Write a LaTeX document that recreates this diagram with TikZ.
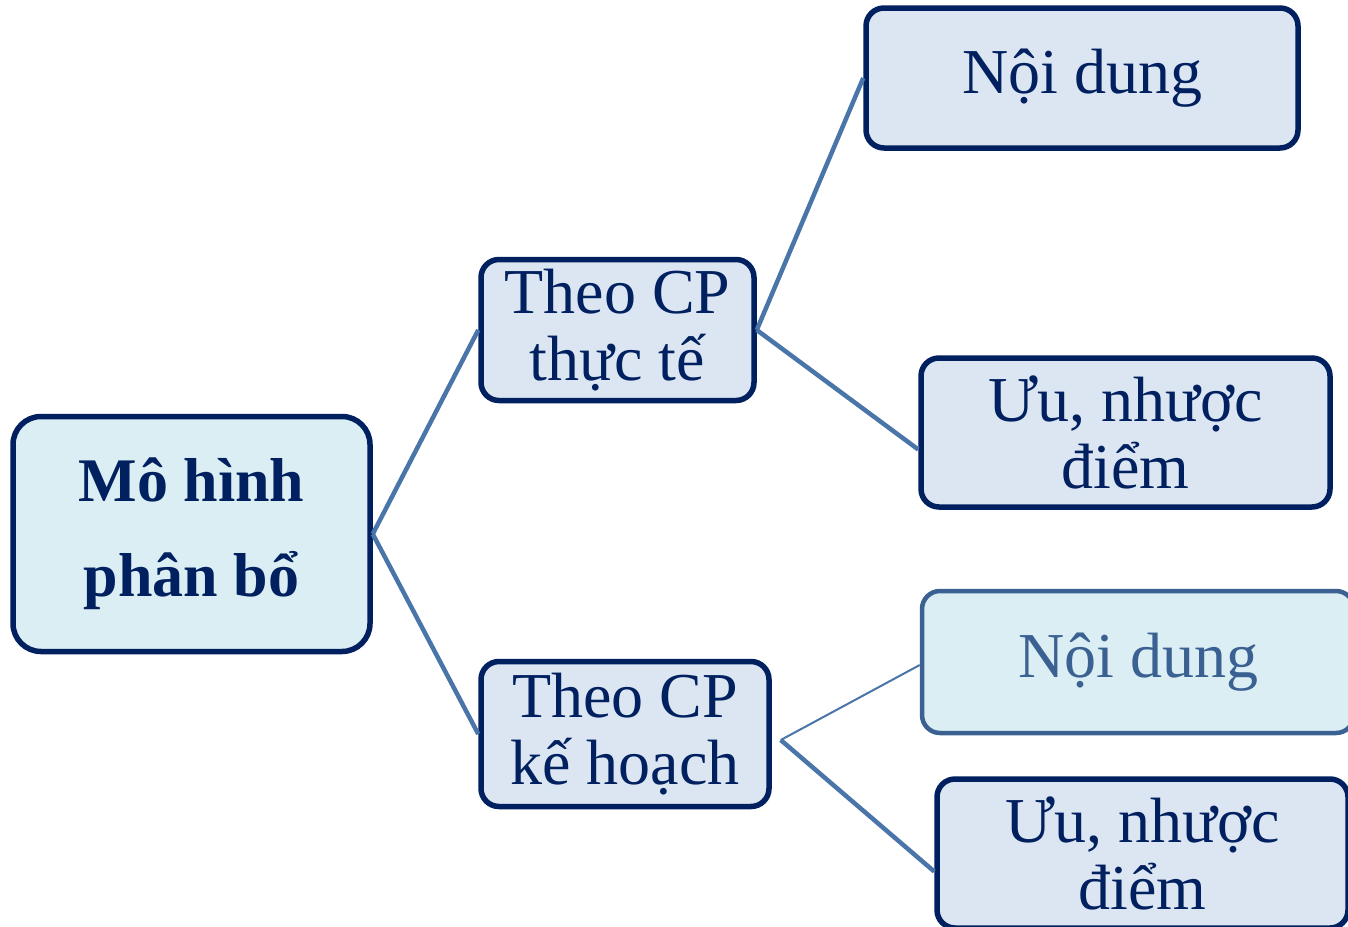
\documentclass[tikz,border=0pt]{standalone}
\usepackage{fontspec}
\setmainfont{Liberation Serif}

\definecolor{navy}{HTML}{002060}
\definecolor{paleblue}{HTML}{DCE6F2}
\definecolor{palecyan}{HTML}{DAEEF3}
\definecolor{linkblue}{HTML}{4A75A8}
\definecolor{softnavy}{HTML}{3A6192}

\begin{document}
\begin{tikzpicture}[x=1pt, y=-1pt,
    box/.style={draw=navy, line width=5.5pt, fill=paleblue, rounded corners=18pt,
      inner sep=0pt, align=center, text=navy,
      font=\fontsize{64}{67}\selectfont},
    link/.style={draw=linkblue, line width=4.5pt}]
  \clip (0,0) rectangle (1348,926);

  % Root of the tree
  \node[box, fill=palecyan, rounded corners=28pt, minimum width=357pt, minimum height=235pt,
    font=\fontsize{62}{95}\selectfont\bfseries] (model) at (191.5,534) {Mô hình\\phân bổ};

  % Second level
  \node[box, minimum width=273pt, minimum height=141pt] (actual) at (617.5,330) {Theo CP\\thực tế};
  \node[box, minimum width=288pt, minimum height=145pt] (plan) at (625,734) {Theo CP\\kế hoạch};

  % Leaves
  \node[box, minimum width=432pt, minimum height=140pt] (contentA) at (1082,78) {Nội dung};
  \node[box, minimum width=409pt, minimum height=149pt] (prosA) at (1125.5,432.5) {Ưu, nhược\\điểm};
  \node[box, draw=softnavy, line width=4.5pt, fill=palecyan, text=softnavy,
    minimum width=432pt, minimum height=142pt] (contentB) at (1138,662) {Nội dung};
  \node[box, minimum width=411pt, minimum height=149pt] (prosB) at (1142.5,853.5) {Ưu, nhược\\điểm};

  % Connectors
  \draw[link] (model.east) -- (actual.west);
  \draw[link] (model.east) -- (plan.west);
  \draw[link] (actual.east) -- (contentA.west);
  \draw[link] (actual.east) -- ([yshift=-17pt]prosA.west);
  \draw[link, line width=2pt] ([xshift=9pt,yshift=-6pt]plan.east) -- ([yshift=-3pt]contentB.west);
  \draw[link] ([xshift=9pt,yshift=-6pt]plan.east) -- ([yshift=-18pt]prosB.west);
\end{tikzpicture}
\end{document}
